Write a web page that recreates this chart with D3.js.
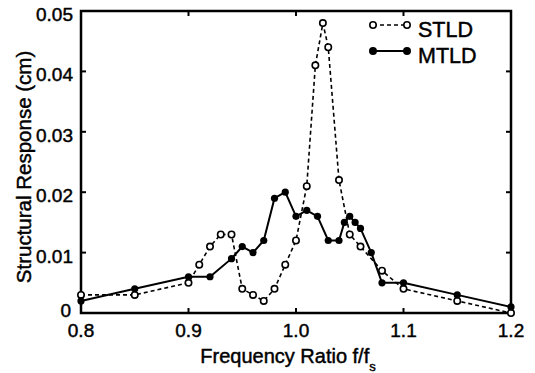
<!DOCTYPE html>
<html>
<head>
<meta charset="utf-8">
<script src="https://cdn.jsdelivr.net/npm/d3@7"></script>
<style>
body { margin: 0; background: #fff; }
text { font-family: "Liberation Sans", Arial, sans-serif; fill: #000; stroke: #000; stroke-width: 0.45px; }
</style>
</head>
<body>
<div id="chart"></div>
<script>
// frequency ratio f/fs and structural response (cm)
var stldFreq = [0.80, 0.85, 0.90, 0.91, 0.92, 0.93, 0.94, 0.95, 0.96, 0.97, 0.98, 0.99, 1.00, 1.01, 1.018, 1.025, 1.03, 1.04, 1.05, 1.06, 1.08, 1.10, 1.15, 1.20];
var stldResp = [0.003, 0.003, 0.005, 0.008, 0.011, 0.013, 0.013, 0.004, 0.003, 0.002, 0.004, 0.008, 0.012, 0.021, 0.041, 0.048, 0.044, 0.022, 0.013, 0.011, 0.007, 0.004, 0.002, 0.0];

var mtldFreq = [0.80, 0.85, 0.90, 0.92, 0.94, 0.95, 0.96, 0.97, 0.98, 0.99, 1.00, 1.01, 1.02, 1.03, 1.04, 1.045, 1.05, 1.055, 1.06, 1.07, 1.08, 1.10, 1.15, 1.20];
var mtldResp = [0.002, 0.004, 0.006, 0.006, 0.009, 0.011, 0.010, 0.012, 0.019, 0.020, 0.016, 0.017, 0.016, 0.012, 0.012, 0.015, 0.016, 0.015, 0.014, 0.010, 0.005, 0.005, 0.003, 0.001];

var xTicks = [0.8, 0.9, 1.0, 1.1, 1.2];
var yTicks = [0, 0.01, 0.02, 0.03, 0.04, 0.05];

var width = 535, height = 373;
var margin = {top: 11, right: 24, bottom: 60, left: 81};

var svg = d3.select("#chart")
.append("svg")
.attr("width", width)
.attr("height", height);

var x = d3.scaleLinear().domain([0.8, 1.2]).range([margin.left, width - margin.right]);
var y = d3.scaleLinear().domain([0, 0.05]).range([height - margin.bottom, margin.top]);

// frame
svg.append("rect")
.attr("x", x(0.8))
.attr("y", y(0.05))
.attr("width", x(1.2) - x(0.8))
.attr("height", y(0) - y(0.05))
.style("fill", "none")
.style("stroke", "#000")
.style("stroke-width", 2.5);

// inward ticks on all four sides
var tickLen = 5;
var xInner = xTicks.slice(1, -1), yInner = yTicks.slice(1, -1);
svg.selectAll(".xtb").data(xInner).enter().append("line")
.attr("x1", d => x(d)).attr("x2", d => x(d))
.attr("y1", y(0)).attr("y2", y(0) - tickLen)
.style("stroke", "#000").style("stroke-width", 2);
svg.selectAll(".xtt").data(xInner).enter().append("line")
.attr("x1", d => x(d)).attr("x2", d => x(d))
.attr("y1", y(0.05)).attr("y2", y(0.05) + tickLen)
.style("stroke", "#000").style("stroke-width", 2);
svg.selectAll(".ytl").data(yInner).enter().append("line")
.attr("x1", x(0.8)).attr("x2", x(0.8) + tickLen)
.attr("y1", d => y(d)).attr("y2", d => y(d))
.style("stroke", "#000").style("stroke-width", 2);
svg.selectAll(".ytr").data(yInner).enter().append("line")
.attr("x1", x(1.2)).attr("x2", x(1.2) - tickLen)
.attr("y1", d => y(d)).attr("y2", d => y(d))
.style("stroke", "#000").style("stroke-width", 2);

// tick labels
svg.selectAll(".xl").data(xTicks).enter().append("text")
.attr("x", d => x(d))
.attr("y", y(0) + 24)
.attr("text-anchor", "middle")
.style("font-size", "19px")
.text(d => d.toFixed(1));

svg.selectAll(".yl").data(yTicks).enter().append("text")
.attr("x", d => x(0.8) - (d === 0 ? 10 : 8))
.attr("y", d => y(d) + (d === 0 ? 4 : 10))
.attr("text-anchor", "end")
.style("font-size", "19px")
.text(d => d === 0 ? "0" : d.toFixed(2));

// axis titles
svg.append("text")
.attr("x", (x(0.8) + x(1.2)) / 2 - 8)
.attr("y", height - 10)
.attr("text-anchor", "middle")
.style("font-size", "20px")
.text("Frequency Ratio f/f")
.append("tspan")
.attr("baseline-shift", "sub")
.style("font-size", "13px")
.text("s");

svg.append("text")
.attr("transform", "translate(31," + 167 + ") rotate(-90)")
.attr("text-anchor", "middle")
.style("font-size", "20.5px")
.text("Structural Response (cm)");

var line = d3.line().x(d => x(d[0])).y(d => y(d[1]));
var stld = stldFreq.map((f, i) => [f, stldResp[i]]);
var mtld = mtldFreq.map((f, i) => [f, mtldResp[i]]);

svg.append("path")
.datum(stld)
.attr("d", line)
.style("fill", "none")
.style("stroke", "#000")
.style("stroke-width", 1.6)
.style("stroke-dasharray", "4,3");

svg.append("path")
.datum(mtld)
.attr("d", line)
.style("fill", "none")
.style("stroke", "#000")
.style("stroke-width", 2);

svg.selectAll(".stld").data(stld).enter().append("circle")
.attr("cx", d => x(d[0])).attr("cy", d => y(d[1]))
.attr("r", 3.2)
.style("fill", "#fff").style("stroke", "#000").style("stroke-width", 1.6);

svg.selectAll(".mtld").data(mtld).enter().append("circle")
.attr("cx", d => x(d[0])).attr("cy", d => y(d[1]))
.attr("r", 3.6)
.style("fill", "#000");

// legend
var legend = [
    {label: "STLD", dash: "4,3", fill: "#fff", w: 1.6, y: 25},
    {label: "MTLD", dash: null, fill: "#000", w: 2, y: 51}
];
var lg = svg.selectAll(".lg").data(legend).enter().append("g");
lg.append("line")
.attr("x1", 373).attr("x2", 407)
.attr("y1", d => d.y).attr("y2", d => d.y)
.style("stroke", "#000")
.style("stroke-width", d => d.w)
.style("stroke-dasharray", d => d.dash);
lg.selectAll("circle").data(d => [[373, d], [407, d]]).enter().append("circle")
.attr("cx", d => d[0]).attr("cy", d => d[1].y)
.attr("r", 3.2)
.style("fill", d => d[1].fill)
.style("stroke", "#000").style("stroke-width", 1.6);
lg.append("text")
.attr("x", 418)
.attr("y", d => d.y + 12)
.style("font-size", "21.5px")
.text(d => d.label);
</script>
</body>
</html>
